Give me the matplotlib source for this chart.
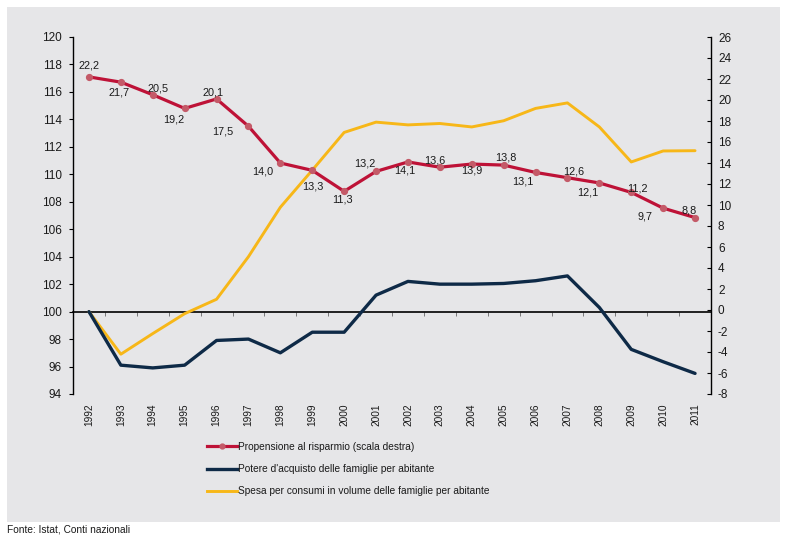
import matplotlib
matplotlib.use("Agg")
import matplotlib.pyplot as plt
from matplotlib.patches import Rectangle
from matplotlib.lines import Line2D

plt.rcParams['font.family'] = ['Liberation Sans', 'DejaVu Sans']
plt.rcParams['axes.unicode_minus'] = False

years = [str(y) for y in range(1992, 2012)]
propensione = [22.2, 21.7, 20.5, 19.2, 20.1, 17.5, 14.0, 13.3, 11.3, 13.2,
               14.1, 13.6, 13.9, 13.8, 13.1, 12.6, 12.1, 11.2, 9.7, 8.8]
potere = [100.0, 96.1, 95.9, 96.1, 97.9, 98.0, 97.0, 98.5, 98.5, 101.2,
          102.2, 102.0, 102.0, 102.05, 102.25, 102.6, 100.3, 97.25, 96.35, 95.5]
spesa = [100.0, 96.9, 98.4, 99.85, 100.9, 104.0, 107.6, 110.3, 113.05, 113.8,
         113.6, 113.7, 113.45, 113.9, 114.8, 115.2, 113.45, 110.9, 111.7, 111.72]
labels_prop = ["22,2", "21,7", "20,5", "19,2", "20,1", "17,5", "14,0", "13,3", "11,3", "13,2",
               "14,1", "13,6", "13,9", "13,8", "13,1", "12,6", "12,1", "11,2", "9,7", "8,8"]
legend_labels = ["Propensione al risparmio (scala destra)",
                 "Potere d'acquisto delle famiglie per abitante",
                 "Spesa per consumi in volume delle famiglie per abitante"]

# label offsets in pixels (dx, dy) with dy positive downward
label_offsets = [(0, -11), (-2, 10), (5, -6), (-11, 11), (-3, -6), (-26, 5), (-18, 9),
                 (1, 16), (-2, 8), (-11, -8), (-3, 9), (-5, -7), (0, 6), (2, -8),
                 (-13, 9), (6, -6), (-12, 10), (6, -4), (-18, 8), (-6, -7)]

W, H = 809, 560
fig = plt.figure(figsize=(W / 100, H / 100), dpi=100)
fig.patch.set_facecolor('white')
panel = Rectangle((7 / W, 1 - 522 / H), (780 - 7) / W, (522 - 7) / H,
                  transform=fig.transFigure, facecolor='#E6E6E8', edgecolor='none', zorder=-10)
fig.add_artist(panel)

ax = fig.add_axes([73 / W, 1 - 394 / H, (711 - 73) / W, (394 - 37) / H])
ax.set_facecolor('none')
x = list(range(len(years)))

RED = '#BE1237'
NAVY = '#0E2A47'
YEL = '#F7B718'
TXT = '#1a1a1a'
FS = 7.3
TFS = 8.5
LFS = 7.8

ax.plot(x, spesa, color=YEL, lw=2.1, solid_capstyle='round', zorder=3)
ax.plot(x, potere, color=NAVY, lw=2.4, solid_capstyle='round', zorder=3)
ax.set_xlim(-0.5, len(years) - 0.5)
ax.set_ylim(94, 120)
ax.set_yticks(range(94, 121, 2))
ax.set_xticks(x)
ax.set_xticklabels(years, rotation=90, fontsize=FS, color=TXT)
ax.tick_params(axis='x', length=0, pad=7)
ax.tick_params(axis='y', direction='out', length=3, width=0.8, labelsize=TFS,
               labelcolor=TXT, pad=5)
for s in ['top', 'right', 'bottom']:
    ax.spines[s].set_visible(False)
ax.spines['left'].set_linewidth(1.0)

# horizontal line at 100 with category boundary ticks
sec = ax.secondary_xaxis((100 - 94) / (120 - 94))
sec.set_xticks([i + 0.5 for i in range(len(years) - 1)])
sec.set_xticklabels([])
sec.tick_params(direction='out', length=3, width=0.6, color='#666666')
sec.spines['bottom'].set_linewidth(1.2)

ax2 = ax.twinx()
ax2.set_ylim(-8, 26)
ax2.set_yticks(range(-8, 27, 2))
ax2.plot(x, propensione, color=RED, lw=2.3, marker='o', markersize=4.2,
         markerfacecolor='#C45A68', markeredgecolor='#C45A68', zorder=4)
for s in ['top', 'left', 'bottom']:
    ax2.spines[s].set_visible(False)
ax2.spines['right'].set_linewidth(1.0)
ax2.tick_params(axis='y', direction='in', length=3, width=0.8, labelsize=TFS,
                labelcolor=TXT, pad=5)

for xi, v, lab, (dx, dy) in zip(x, propensione, labels_prop, label_offsets):
    ax2.annotate(lab, (xi, v), xytext=(dx, -dy), textcoords='offset pixels',
                 ha='center', va='center', fontsize=LFS, color=TXT, zorder=5)

handles = [Line2D([], [], color=RED, lw=2.3, marker='o', markersize=3.5,
                  markerfacecolor='#C45A68', markeredgecolor='#C45A68'),
           Line2D([], [], color=NAVY, lw=2.4),
           Line2D([], [], color=YEL, lw=2.1)]
fig.legend(handles, legend_labels, loc='upper left', bbox_to_anchor=(207 / W, 1 - 442 / H),
           frameon=False, fontsize=FS, handlelength=3.0, handletextpad=0.1,
           labelspacing=1.2, borderpad=0, borderaxespad=0, labelcolor=TXT)

fig.text(7 / W, 1 - 530 / H, "Fonte: Istat, Conti nazionali", fontsize=FS,
         color=TXT, ha='left', va='center')

fig.savefig('out.png', dpi=100)
